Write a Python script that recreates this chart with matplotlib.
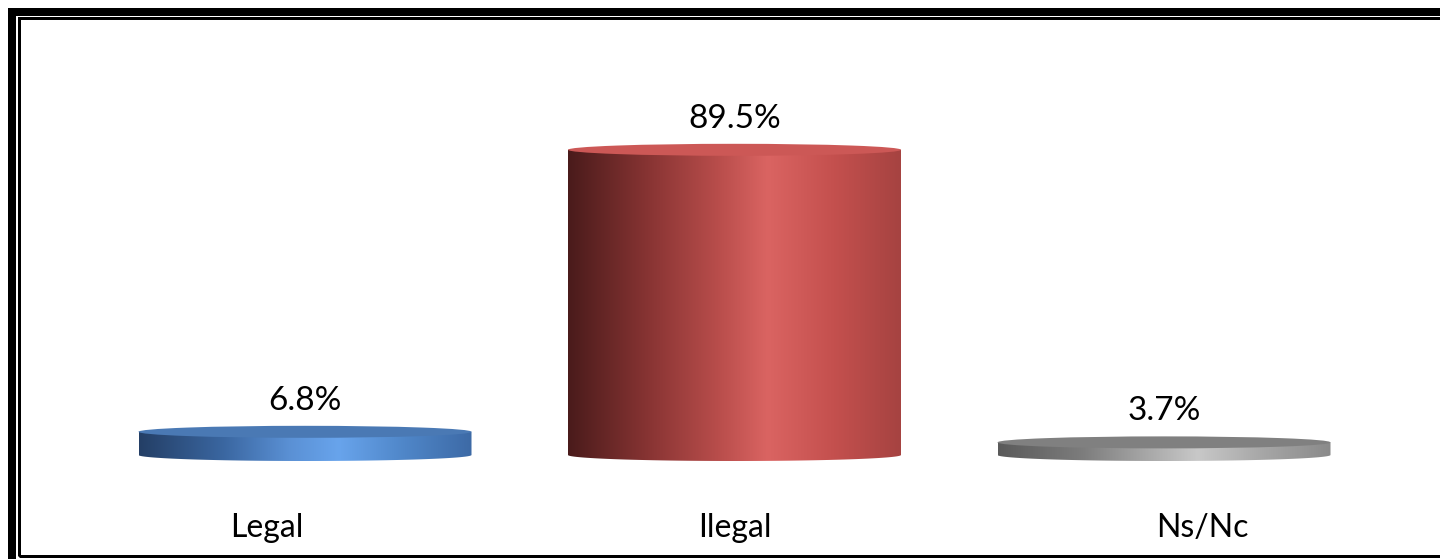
import numpy as np
import matplotlib
matplotlib.use("Agg")
import matplotlib.pyplot as plt
from matplotlib.patches import Ellipse, PathPatch, Rectangle
from matplotlib.path import Path
from matplotlib.colors import LinearSegmentedColormap

categories = ["Legal", "Ilegal", "Ns/Nc"]
values = [6.8, 89.5, 3.7]
value_labels = ["6.8%", "89.5%", "3.7%"]

# gradient stops (left dark -> highlight -> right) and top colours
grad_colors = [
    ["#243f66", "#3a66a0", "#5a90d4", "#68a4ec", "#4f86c8", "#3d6aa6"],
    ["#4a1b1b", "#8a3534", "#b84d4b", "#da6462", "#c4504e", "#a64341"],
    ["#5a5a5a", "#7c7c7c", "#a8a8a8", "#c8c8c8", "#a6a6a6", "#8a8a8a"],
]
top_colors = ["#4a79b4", "#cc5856", "#808080"]

W, H, DPI = 1440, 559, 100
fig = plt.figure(figsize=(W / DPI, H / DPI), dpi=DPI)
ax = fig.add_axes([0, 0, 1, 1])

# pixel scale: zero at y=455 px, 1 unit = 3.41 px ; x centers 305, 735, 1164
py_per_unit = 3.41
y0_px = 455
x0_px, dx_px = 305, 429.5
ax.set_xlim(-x0_px / dx_px, (W - x0_px) / dx_px)
ax.set_ylim(-(H - y0_px) / py_per_unit, y0_px / py_per_unit)
ax.axis("off")

bw = 333 / dx_px            # cylinder width in data units
eh = 6.0 / py_per_unit      # ellipse half height in data units

xs = np.arange(len(categories))
for i, (x, v) in enumerate(zip(xs, values)):
    left, right = x - bw / 2, x + bw / 2
    # body path: rectangle + bottom half-ellipse
    t = np.linspace(np.pi, 2 * np.pi, 60)
    arc = np.column_stack([x + bw / 2 * np.cos(t), eh * np.sin(t)])
    verts = [(left, v), (left, 0)] + [tuple(p) for p in arc] + [(right, 0), (right, v), (left, v)]
    codes = [Path.MOVETO] + [Path.LINETO] * (len(verts) - 2) + [Path.CLOSEPOLY]
    body = PathPatch(Path(verts, codes), facecolor="none", edgecolor="none", transform=ax.transData)
    ax.add_patch(body)
    cmap = LinearSegmentedColormap.from_list(
        f"c{i}", list(zip([0.0, 0.25, 0.45, 0.6, 0.8, 1.0], grad_colors[i])))
    grad = np.linspace(0, 1, 256).reshape(1, -1)
    im = ax.imshow(grad, cmap=cmap, aspect="auto",
                   extent=[left, right, -eh * 1.2, v + eh], zorder=2, interpolation="bilinear")
    im.set_clip_path(body)
    top = Ellipse((x, v), bw, 2 * eh, facecolor=top_colors[i], edgecolor="none", zorder=3)
    ax.add_patch(top)
    ax.annotate(value_labels[i], (x, v + eh), xytext=(0, 16), textcoords="offset pixels",
                ha="center", va="baseline", fontsize=24, family="Lato", color="#000000", zorder=4)

# category labels (Excel 3D perspective shifts outer labels)
label_y = -(528 - y0_px) / py_per_unit
for i, (x, c) in enumerate(zip(xs, categories)):
    ax.annotate(c, (x, label_y), xytext=((i - 1) * 38, 0), textcoords="offset pixels",
                ha="center", va="center", fontsize=23, family="Lato", color="#000000")

# frame lines (figure pixel coords)
def px_rect(x, y, w, h, lw):
    r = Rectangle((x / W, 1 - (y + h) / H), w / W, h / H, transform=fig.transFigure,
                  fill=False, edgecolor="black", linewidth=lw * 72 / DPI, clip_on=False)
    fig.add_artist(r)

px_rect(12, 12, 1460, 600, 8)
px_rect(19, 18, 1440, 537.5, 3)

fig.savefig("out.png", dpi=DPI)
